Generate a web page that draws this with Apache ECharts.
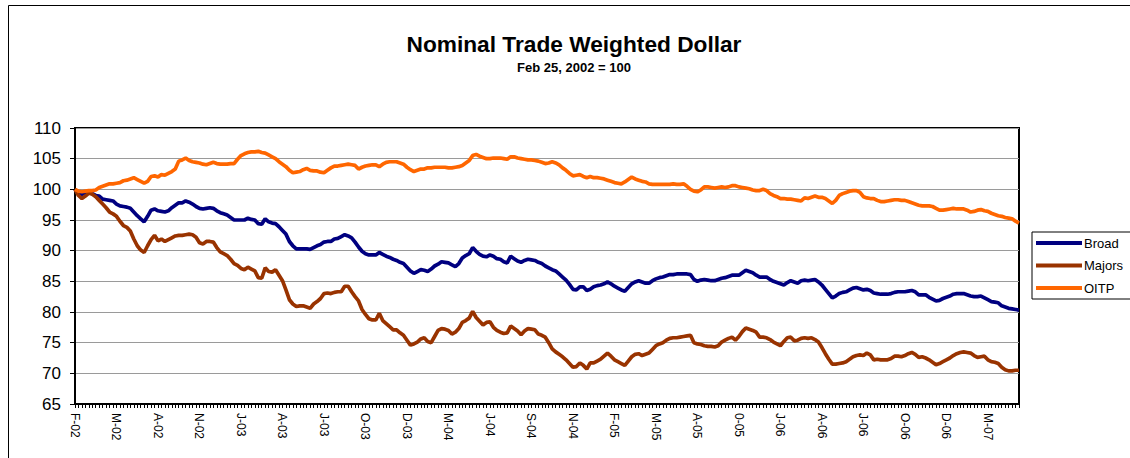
<!DOCTYPE html>
<html>
<head>
<meta charset="utf-8">
<script src="https://cdn.jsdelivr.net/npm/echarts@6/dist/echarts.min.js"></script>
<style>
html,body{margin:0;padding:0;background:#fff;}
#chart{width:1130px;height:458px;}
</style>
</head>
<body>
<div id="chart"></div>
<script>
// Weekly observations starting Feb 25, 2002 (=100)
const startDate = '2002-02-25';
const weeksPerLabel = 12;
const tickLabels = ['F-02','M-02','A-02','N-02','J-03','A-03','J-03','O-03','D-03','M-04','J-04','S-04','N-04','F-05','M-05','A-05','0-05','J-06','A-06','J-06','O-06','D-06','M-07'];
const seriesNames = ['Broad', 'Majors', 'OITP'];

const broad = [
100,99.2,99.2,99.4,99.5,99.3,99.0,98.9,98.4,98.3,
98.2,98.1,97.6,97.3,97.2,97.1,96.9,96.3,95.7,95.2,
94.7,95.6,96.6,96.8,96.5,96.4,96.3,96.5,97.0,97.4,
97.8,97.8,98.1,97.9,97.6,97.2,96.9,96.8,96.9,97.0,
96.9,96.5,96.2,96.0,95.8,95.4,95.0,95.0,95.0,95.0,
95.3,95.1,95.0,94.4,94.3,95.2,94.7,94.5,94.4,93.9,
93.3,92.7,91.5,90.8,90.3,90.3,90.3,90.3,90.2,90.5,
90.8,91.0,91.4,91.5,91.5,91.9,92.0,92.3,92.6,92.4,
92.1,91.4,90.6,89.9,89.5,89.3,89.3,89.3,89.7,89.4,
89.1,88.9,88.6,88.4,88.1,87.9,87.3,86.7,86.3,86.6,
86.9,86.8,86.6,87.0,87.5,87.8,88.2,88.1,88.0,87.7,
87.4,87.9,88.8,89.2,89.5,90.5,89.9,89.4,89.1,89.0,
89.3,89.1,88.7,88.6,88.2,88.0,89.1,88.7,88.3,88.1,
88.4,88.6,88.5,88.4,88.1,87.9,87.5,87.2,86.9,86.7,
86.2,85.7,85.2,84.5,83.7,83.6,84.1,84.1,83.5,83.7,
84.1,84.3,84.4,84.6,84.9,84.6,84.2,83.9,83.6,83.4,
84.0,84.6,84.9,85.1,84.9,84.7,84.7,85.1,85.4,85.6,
85.7,85.9,86.1,86.1,86.2,86.2,86.2,86.2,86.1,85.3,
85.0,85.2,85.3,85.2,85.1,85.1,85.3,85.5,85.6,85.8,
86.0,86.0,86.0,86.4,86.8,86.6,86.4,86.0,85.7,85.7,
85.7,85.3,85.0,84.8,84.6,84.4,84.8,85.1,84.9,84.7,
85.1,85.2,85.1,85.2,85.3,84.9,84.4,83.7,83.0,82.3,
82.6,83.0,83.2,83.3,83.6,83.9,84.0,83.8,83.6,83.7,
83.5,83.1,83.0,82.9,82.9,82.9,83.0,83.2,83.3,83.3,
83.3,83.4,83.5,83.3,82.8,82.8,82.8,82.4,82.1,81.8,
81.9,82.2,82.4,82.6,82.9,83.0,83.0,83.0,82.8,82.6,
82.5,82.5,82.6,82.3,82.0,81.7,81.6,81.5,81.0,80.8,
80.6,80.5,80.4,80.3
];

const majors = [
100,99.0,98.5,98.9,99.4,99.2,98.8,98.2,97.6,97.0,
96.3,96.0,95.6,94.8,94.1,93.8,93.2,91.9,90.8,90.1,
89.7,90.8,91.8,92.5,91.6,91.9,91.5,91.8,92.1,92.4,
92.5,92.5,92.6,92.7,92.6,92.2,91.3,91.1,91.5,91.5,
91.4,90.5,89.8,89.5,89.2,88.6,87.9,87.6,87.1,86.9,
87.3,87.0,86.7,85.6,85.5,87.2,86.6,86.5,86.9,86.0,
85.1,83.6,82.0,81.3,80.9,81.0,81.0,80.8,80.6,81.3,
81.7,82.2,83.0,83.1,83.0,83.2,83.3,83.3,84.2,84.2,
83.3,82.5,81.8,80.4,79.6,78.9,78.7,78.7,79.8,78.6,
78.1,77.6,77.1,77.1,76.6,76.2,75.4,74.6,74.8,75.1,
75.6,75.8,75.2,75.0,76.0,77.0,77.3,77.2,77.0,76.4,
76.7,77.3,78.3,78.6,79.0,80.1,79.1,78.5,77.9,78.3,
78.4,77.5,77.0,76.7,76.5,76.6,77.7,77.3,76.9,76.3,
76.9,77.3,77.2,77.1,76.4,76.2,75.9,75.0,74.0,73.5,
73.1,72.7,72.2,71.6,71.0,71.1,71.7,71.3,70.7,71.7,
71.7,72.0,72.3,72.8,73.3,72.8,72.2,71.9,71.6,71.3,
72.0,72.7,73.1,73.2,72.9,73.1,73.3,73.9,74.5,74.8,
75.0,75.4,75.7,75.8,75.8,75.9,76.0,76.1,76.2,75.0,
74.8,74.7,74.5,74.4,74.4,74.3,74.5,75.1,75.4,75.7,
75.9,75.4,76.0,76.8,77.4,77.2,77.0,76.7,75.9,75.9,
75.8,75.5,75.1,74.8,74.5,75.2,75.8,75.9,75.3,75.4,
75.7,75.8,75.7,75.8,75.5,75.1,74.2,73.2,72.3,71.5,
71.5,71.6,71.7,71.9,72.3,72.7,72.9,73.0,72.9,73.3,
73.0,72.2,72.3,72.2,72.2,72.2,72.4,72.8,72.8,72.7,
72.9,73.2,73.4,73.1,72.6,72.7,72.5,72.2,71.8,71.4,
71.6,71.9,72.2,72.5,72.9,73.2,73.4,73.5,73.4,73.3,
72.9,72.6,72.7,72.8,72.2,71.9,71.8,71.6,71.0,70.6,
70.4,70.4,70.5,70.5
];

const oitp = [
100,99.7,99.6,99.7,99.8,99.8,99.9,100.3,100.5,100.7,
100.9,100.9,101.0,101.1,101.4,101.5,101.7,101.9,101.6,101.3,
101.0,101.3,102.1,102.2,102.0,102.4,102.3,102.6,102.9,103.3,
104.6,104.8,105.1,104.7,104.5,104.4,104.3,104.1,104.0,104.2,
104.4,104.2,104.1,104.1,104.1,104.2,104.2,104.9,105.5,105.8,
106.0,106.1,106.1,106.2,106.0,105.9,105.6,105.3,105.0,104.5,
104.1,103.7,103.1,102.7,102.8,102.9,103.2,103.4,103.1,103.0,
103.0,102.8,102.7,103.1,103.5,103.8,103.8,103.9,104.0,104.1,
104.0,103.9,103.3,103.6,103.8,103.9,104.0,104.0,103.7,104.1,
104.4,104.5,104.5,104.5,104.3,104.1,103.6,103.2,102.9,103.1,
103.3,103.3,103.5,103.5,103.6,103.6,103.6,103.6,103.5,103.5,
103.6,103.7,103.9,104.3,104.7,105.5,105.7,105.4,105.2,105.0,
105.0,105.1,105.1,105.1,105.0,104.9,105.3,105.3,105.1,105.0,
104.9,104.8,104.8,104.7,104.6,104.4,104.2,104.3,104.5,104.3,
104.0,103.5,103.1,102.6,102.2,102.3,102.4,102.1,101.9,102.1,
101.9,101.9,101.8,101.7,101.5,101.3,101.1,101.0,100.9,101.2,
101.6,102.0,101.7,101.5,101.3,101.2,100.9,100.8,100.8,100.8,
100.8,100.8,100.8,100.9,100.8,100.8,100.9,100.5,100.0,99.7,
99.6,99.9,100.4,100.4,100.3,100.2,100.3,100.4,100.3,100.4,
100.6,100.6,100.4,100.3,100.2,100.1,99.9,99.8,99.8,100.0,
99.8,99.3,99.0,98.8,98.5,98.5,98.4,98.4,98.3,98.2,
98.1,98.6,98.5,98.7,98.9,98.7,98.7,98.5,98.1,97.7,
98.2,99.0,99.3,99.5,99.7,99.8,99.8,99.5,98.8,98.6,
98.5,98.5,98.2,98.0,98.0,98.1,98.2,98.3,98.3,98.2,
98.2,98.0,97.8,97.6,97.4,97.3,97.3,97.3,97.2,96.9,
96.6,96.6,96.7,96.8,96.9,96.8,96.8,96.8,96.6,96.3,
96.4,96.6,96.7,96.5,96.4,96.1,95.9,95.7,95.6,95.4,
95.3,95.2,94.8,94.5
];

// weekly category dates
const categories = [];
(function () {
  const t0 = Date.parse(startDate + 'T00:00:00Z');
  for (let i = 0; i < broad.length; i++) {
    categories.push(new Date(t0 + i * 7 * 86400000).toISOString().slice(0, 10));
  }
})();

const FONT = '"Liberation Sans", Arial, Helvetica, sans-serif';
const colors = ['#000080', '#993300', '#FF6600'];

const chart = echarts.init(document.getElementById('chart'), null, {renderer: 'svg'});
chart.setOption({
  animation: false,
  backgroundColor: '#ffffff',
  color: colors,
  graphic: [{
    type: 'rect',
    shape: {x: 8.5, y: 5.5, width: 1200, height: 500},
    style: {fill: 'none', stroke: '#000', lineWidth: 1},
    silent: true, z: -10
  }],
  title: {
    text: 'Nominal Trade Weighted Dollar',
    subtext: 'Feb 25, 2002 = 100',
    left: 574,
    top: 32,
    textAlign: 'center',
    padding: 0,
    itemGap: 6,
    textStyle: {fontFamily: FONT, fontSize: 22.7, fontWeight: 'bold', color: '#000'},
    subtextStyle: {fontFamily: FONT, fontSize: 13, fontWeight: 'bold', color: '#000'}
  },
  legend: {
    orient: 'vertical',
    left: 1032,
    top: 232,
    width: 97,
    padding: [4, 8, 4, 4],
    itemGap: 8.5,
    itemWidth: 46,
    itemHeight: 4,
    icon: 'rect',
    borderColor: '#000',
    borderWidth: 1,
    backgroundColor: '#fff',
    data: seriesNames,
    textStyle: {fontFamily: FONT, fontSize: 13, color: '#000', lineHeight: 14, padding: [0, 0, 0, -3]}
  },
  grid: {
    left: 75, top: 128, width: 944, height: 276,
    show: true, borderColor: '#000', borderWidth: 2, backgroundColor: '#fff'
  },
  xAxis: {
    type: 'category',
    data: categories,
    boundaryGap: false,
    axisLine: {lineStyle: {color: '#000', width: 2}},
    axisTick: {show: true, interval: 0, length: 4, lineStyle: {color: '#000', width: 1}},
    axisLabel: {
      interval: function (index) { return index % weeksPerLabel === 0; },
      formatter: function (value, index) { return tickLabels[index / weeksPerLabel] || ''; },
      rotate: -90,
      margin: 9,
      fontFamily: FONT,
      fontSize: 12,
      color: '#000'
    },
    splitLine: {show: false}
  },
  yAxis: {
    type: 'value',
    min: 65,
    max: 110,
    interval: 5,
    axisLine: {show: true, lineStyle: {color: '#000', width: 2}},
    axisTick: {show: true, length: 5, lineStyle: {color: '#000', width: 1}},
    axisLabel: {fontFamily: FONT, fontSize: 17, color: '#000', margin: 14},
    splitLine: {show: true, lineStyle: {color: '#9a9a9a', width: 1.2}}
  },
  series: [
    {name: seriesNames[0], type: 'line', data: broad, showSymbol: false, symbol: 'none', lineStyle: {width: 3.7, color: colors[0]}, z: 3},
    {name: seriesNames[1], type: 'line', data: majors, showSymbol: false, symbol: 'none', lineStyle: {width: 3.7, color: colors[1]}, z: 4},
    {name: seriesNames[2], type: 'line', data: oitp, showSymbol: false, symbol: 'none', lineStyle: {width: 3.7, color: colors[2]}, z: 5}
  ]
});
</script>
</body>
</html>
